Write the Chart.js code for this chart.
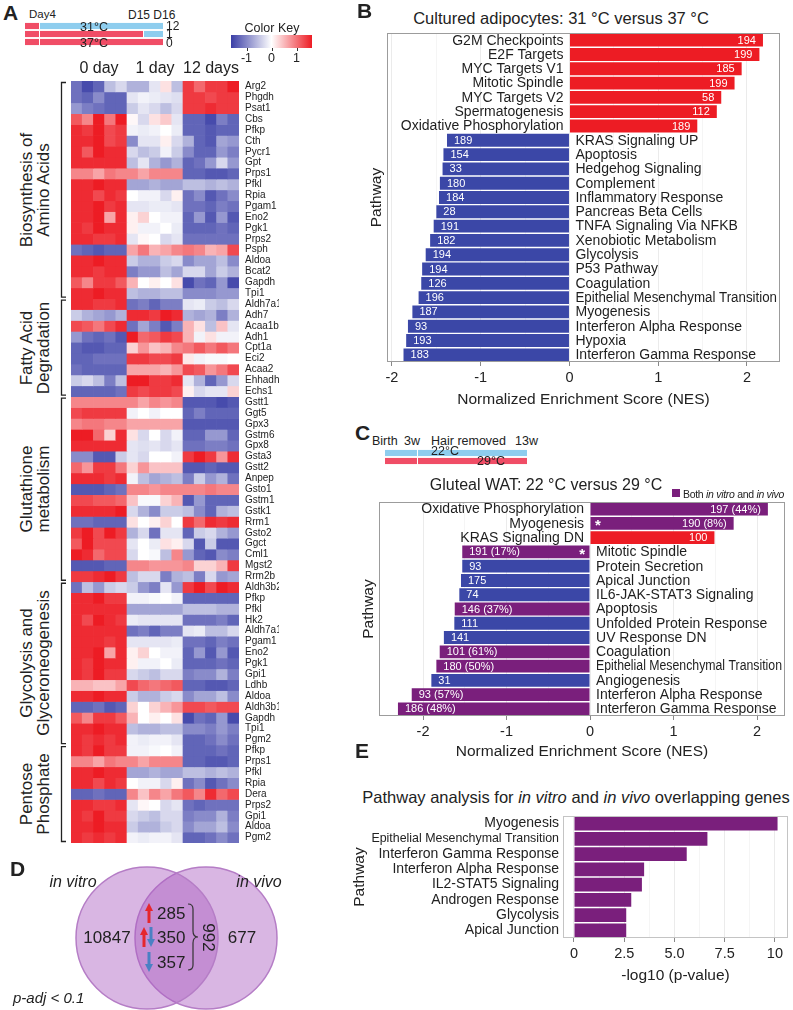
<!DOCTYPE html>
<html><head><meta charset="utf-8">
<script src="https://cdn.jsdelivr.net/npm/chart.js@4.4.1/dist/chart.umd.min.js"></script>
<style>
html,body{margin:0;padding:0;background:#fff;}
body{width:793px;height:1010px;position:relative;overflow:hidden;font-family:'Liberation Sans',Arial,sans-serif;color:#222;}
.t{position:absolute;white-space:nowrap;line-height:1;}
canvas{position:absolute;display:block;}
</style></head><body>
<script>
// ---------------- DATA ----------------
// Panel A: heatmap (z-scores), 15 samples: 5 x 0 day, 5 x 1 day, 5 x 12 days
const dayGroups = ['0 day', '1 day', '12 days'];
const sampleColumns = ['d0_1','d0_2','d0_3','d0_4','d0_5','d1_1','d1_2','d1_3','d1_4','d1_5','d12_1','d12_2','d12_3','d12_4','d12_5'];

const aminoAcidGenes = ['Arg2','Phgdh','Psat1','Cbs','Pfkp','Cth','Pycr1','Gpt','Prps1','Pfkl','Rpia','Pgam1','Eno2','Pgk1','Prps2','Psph','Aldoa','Bcat2','Gapdh','Tpi1'];
const aminoAcidRows = [
 [-1.1,-1.4,-1.2,-0.5,-0.3, -0.6,-0.6,-0.2,0.2,-0.5, 1.3,1.0,1.3,1.3,1.5],
 [-1.1,-1.2,-0.9,-1.2,-1.2, -0.2,-0.1,-0.15,-0.2,-0.25, 1.3,1.3,1.2,1.3,1.3],
 [-0.8,-1.0,-1.1,-1.2,-1.2, -0.4,-0.2,-0.3,-0.5,-0.3, 1.3,1.3,1.4,1.3,1.3],
 [1.1,0.8,1.5,0.9,1.5, 0.05,-0.3,0.2,0.35,-0.2, -1.2,-1.2,-1.4,-1.0,-1.2],
 [1.4,1.3,1.5,1.2,1.3, -0.1,-0.15,-0.1,0,-0.15, -1.2,-1.2,-1.3,-1.2,-1.2],
 [1.4,1.4,1.5,1.2,1.3, -0.9,-0.2,-0.2,0.1,-0.3, -0.6,-1.2,-1.3,-0.7,-0.8],
 [1.4,1.1,1.5,1.4,1.4, -0.3,-0.5,-0.4,-0.1,-0.4, -0.9,-1.2,-1.2,-0.8,-1.0],
 [1.4,1.4,1.4,1.4,1.4, -0.5,-0.2,-0.6,-0.8,-0.6, -1.2,-1.1,-0.8,-0.3,-0.8],
 [0.8,0.8,0.6,0.9,0.8, 0.8,0.6,0.8,0.8,0.8, -1.2,-1.2,-1.3,-1.3,-1.2],
 [1.4,1.4,1.5,1.4,1.4, -0.7,-0.7,-0.6,-0.7,-0.7, -0.5,-0.5,-0.6,-0.5,-0.6],
 [1.4,1.4,1.2,1.4,1.3, 0,-0.1,-0.1,-0.3,0.1, -1.1,-0.9,-1.3,-1.1,-0.9],
 [1.4,1.4,1.5,1.3,1.4, -0.2,-0.2,-0.15,-0.15,-0.2, -1.1,-1.1,-1.2,-1.0,-1.1],
 [1.4,1.4,1.5,0.6,1.4, 0.1,0.3,0,-0.1,-0.1, -1.2,-0.8,-1.3,-0.8,-1.3],
 [1.4,1.3,1.5,1.4,1.4, 0.1,-0.1,-0.1,0,-0.15, -1.2,-1.2,-1.2,-1.1,-1.2],
 [1.4,1.4,1.3,1.3,1.4, -0.2,0.05,0,-0.3,-0.2, -1.1,-1.1,-1.1,-1.1,-1.1],
 [-1.1,-1.2,-1.3,-1.2,-1.2, 0.6,0.9,0.5,0.6,0.8, 0.9,0.8,0.5,0.6,1.2],
 [1.4,1.4,1.5,1.4,1.4, -0.4,-0.6,-0.6,-0.4,-0.3, -0.9,-0.7,-0.7,-0.5,-0.9],
 [1.4,1.4,1.3,1.4,1.4, -1.0,-0.8,-0.8,-0.5,-0.7, -0.3,-0.3,-0.7,-0.4,-0.6],
 [1.1,0.8,1.3,1.3,1.1, 0.5,0,0.1,0,0.2, -1.4,-1.1,-1.2,-0.8,-1.4],
 [1.4,1.4,1.5,1.4,1.4, -0.5,-0.6,-0.6,-0.5,-0.5, -0.9,-0.9,-0.9,-0.8,-0.8]
];
const fattyAcidGenes = ['Aldh7a1','Adh7','Acaa1b','Adh1','Cpt1a','Eci2','Acaa2','Ehhadh','Echs1'];
const fattyAcidRows = [
 [1.4,1.4,1.3,1.3,1.4, -1.1,-1.0,-1.2,-1.0,-1.0, -0.2,-0.15,-0.4,-0.5,-0.3],
 [-0.4,-0.6,-0.7,-0.8,-0.6, 1.4,1.4,1.3,1.5,1.4, -0.6,-0.7,-0.6,-1.0,-0.6],
 [1.2,1.1,0.9,1.2,1.4, -1.1,-0.7,-1.0,-1.3,-1.0, 0.5,0.2,-0.5,0.4,-0.2],
 [-0.8,-1.1,-1.2,-1.1,-1.3, 1.5,1.0,1.1,1.3,1.2, 0.5,-0.1,0.2,-0.1,-0.1],
 [-1.2,-1.3,-1.3,-1.2,-1.2, 0.3,0.7,0.4,0.5,0.8, 0.9,1.1,0.9,1.1,0.9],
 [-1.2,-1.2,-1.1,-1.1,-1.1, 1.3,1.3,1.2,1.2,1.3, 0.15,-0.1,-0.05,-0.05,0],
 [-1.1,-1.2,-1.2,-1.2,-1.2, 0.6,0.6,0.6,0.5,0.7, 1.2,1.1,0.7,0.9,1.2],
 [-0.4,-0.3,-0.5,-1.0,-0.5, 1.5,1.5,1.3,1.3,1.4, -0.2,-0.6,-1.2,-0.8,-0.3],
 [-1.2,-1.2,-1.2,-1.2,-1.1, 1.3,1.2,1.3,1.3,1.2, 0.1,-0.3,-0.2,-0.2,0.3]
];
const glutathioneGenes = ['Gstt1','Ggt5','Gpx3','Gstm6','Gpx8','Gsta3','Gstt2','Anpep','Gsto1','Gstm1','Gstk1','Rrm1','Gsto2','Ggct','Cml1','Mgst2','Rrm2b'];
const glutathioneRows = [
 [0.8,0.8,0.8,0.8,0.8, 0.8,0.6,0.8,0.7,0.8, -1.3,-1.3,-1.3,-1.4,-1.3],
 [1.2,1.3,1.3,1.3,1.3, -0.1,0,-0.1,0,0, -1.2,-1.0,-1.2,-1.2,-1.2],
 [0.8,0.9,0.9,0.8,0.8, 0.6,0.6,0.6,0.6,0.6, -1.3,-1.3,-1.3,-1.3,-1.3],
 [1.5,1.5,1.0,0.3,1.4, 0.2,-0.3,0,-0.3,-0.1, -1.2,-1.2,-0.8,-0.8,-1.2],
 [1.4,1.4,1.4,1.4,1.4, -0.2,-0.25,-0.2,-0.3,-0.2, -1.1,-1.1,-1.0,-1.0,-1.1],
 [-0.9,-0.9,-1.3,-1.3,-0.4, -0.2,-0.3,0,0,-0.1, 1.3,1.5,1.3,0.7,1.4],
 [1.0,0.7,1.3,1.3,0.9, 0.3,0.7,0.4,0.4,0.4, -1.3,-1.3,-1.2,-1.3,-1.3],
 [1.4,1.4,1.4,1.3,1.4, -0.1,-0.5,-0.7,-0.6,-0.5, -1.0,-0.4,-0.8,-0.6,-1.1],
 [-1.3,-1.3,-1.3,-1.2,-1.1, 0.8,0.8,0.7,0.8,0.8, 0.8,0.8,0.9,0.8,0.8],
 [1.2,1.2,1.1,1.1,1.0, 0.4,-0.05,-0.05,0.3,0.5, -1.3,-0.8,-1.2,-1.2,-1.2],
 [1.4,1.4,1.4,1.4,1.5, -0.3,-0.6,-0.9,-0.4,-0.4, -0.5,-0.9,-1.2,-0.6,-0.5],
 [-1.1,-1.1,-1.2,-1.2,-1.2, 0.2,0,0.1,0.3,0, 1.3,1.0,1.4,1.3,1.4],
 [1.3,1.5,1.2,1.5,1.3, -0.6,-0.3,-1.1,-0.2,-0.2, -1.2,-0.4,-0.3,-0.6,-0.8],
 [1.1,1.5,1.2,1.2,1.2, -0.2,0,-0.15,0.2,0.1, -0.3,-1.3,-0.4,-1.3,-1.3],
 [1.5,1.4,1.0,1.2,1.2, -0.3,0,-0.05,-0.5,0.8, -0.8,-1.2,-1.3,-0.9,-1.0],
 [-1.3,-1.3,-1.3,-1.2,-1.2, 0.8,0.8,0.7,0.7,0.7, 0.8,0.3,0.3,0.5,1.3],
 [1.3,1.3,1.4,1.5,1.3, -0.5,-0.3,-0.3,-1.0,-0.6, -0.5,-1.0,-0.3,-0.8,-0.7]
];
const glycolysisGenes = ['Aldh3b2','Pfkp','Pfkl','Hk2','Aldh7a1','Pgam1','Eno2','Pgk1','Gpi1','Ldhb','Aldoa','Aldh3b1','Gapdh','Tpi1','Pgm2'];
const glycolysisRows = [
 [-1.1,-0.5,-0.8,-0.4,-0.3, -0.4,-0.8,-1.0,-0.2,-0.8, 1.3,1.5,1.2,1.5,1.4],
 [1.4,1.4,1.5,1.3,1.3, -0.1,-0.1,-0.05,0,-0.1, -1.2,-1.2,-1.2,-1.2,-1.2],
 [1.4,1.4,1.4,1.4,1.4, -0.7,-0.7,-0.7,-0.7,-0.7, -0.5,-0.5,-0.5,-0.6,-0.6],
 [1.4,1.2,1.5,1.4,1.3, -0.15,-0.2,-0.2,-0.2,-0.2, -1.1,-1.1,-1.1,-1.0,-1.2],
 [1.4,1.4,1.4,1.4,1.4, -1.1,-1.0,-1.2,-1.0,-1.0, -0.2,-0.15,-0.5,-0.5,-0.3],
 [1.4,1.4,1.4,1.3,1.4, -0.2,-0.2,-0.2,-0.2,-0.15, -1.1,-1.1,-1.2,-1.0,-1.1],
 [1.4,1.4,1.5,0.6,1.4, 0.1,0.3,0,-0.1,-0.1, -1.2,-0.8,-1.3,-0.8,-1.3],
 [1.4,1.3,1.5,1.4,1.4, 0.1,-0.1,-0.1,0,-0.15, -1.2,-1.2,-1.2,-1.1,-1.2],
 [1.4,1.3,1.5,1.3,1.3, -0.3,-0.4,-0.5,-0.3,-0.3, -1.0,-0.9,-0.9,-0.6,-1.0],
 [0.5,0.5,0.4,0.4,0.6, 1.2,1.0,0.9,1.0,1.1, -1.2,-1.2,-1.3,-1.3,-1.2],
 [1.4,1.4,1.5,1.4,1.4, -0.4,-0.6,-0.6,-0.4,-0.3, -0.9,-0.7,-0.7,-0.5,-0.9],
 [-1.2,-1.2,-1.1,-1.3,-1.2, 0.3,0,0.3,0.5,0.7, 1.2,1.2,1.1,1.2,1.2],
 [1.1,0.8,1.3,1.3,1.1, 0.5,0,0.1,0,0.2, -1.4,-1.1,-1.2,-0.8,-1.4],
 [1.4,1.4,1.5,1.4,1.4, -0.5,-0.6,-0.6,-0.5,-0.5, -0.9,-0.9,-1.0,-0.8,-1.0],
 [1.4,1.3,1.4,1.3,1.4, -0.1,-0.15,-0.1,-0.1,-0.2, -1.2,-1.2,-1.1,-0.9,-1.1]
];
const pentoseGenes = ['Pfkp','Prps1','Pfkl','Rpia','Dera','Prps2','Gpi1','Aldoa','Pgm2'];
const pentoseRows = [
 [1.4,1.3,1.5,1.3,1.3, -0.1,-0.1,-0.05,0,-0.1, -1.2,-1.2,-1.2,-1.1,-1.2],
 [0.8,0.8,0.6,0.9,0.8, 0.8,0.6,0.8,0.8,0.8, -1.2,-1.2,-1.3,-1.3,-1.2],
 [1.4,1.4,1.5,1.4,1.4, -0.7,-0.7,-0.6,-0.7,-0.7, -0.5,-0.5,-0.6,-0.5,-0.6],
 [1.4,1.4,1.2,1.4,1.3, 0,-0.1,-0.1,-0.3,0.1, -1.1,-0.9,-1.3,-1.1,-0.9],
 [-1.2,-1.2,-1.1,-1.2,-1.2, 0.8,0.4,0.8,0.6,0.9, 1.1,0.8,1.4,1.0,1.2],
 [1.4,1.4,1.3,1.3,1.4, -0.2,0.05,0,-0.3,-0.2, -1.1,-1.2,-1.1,-1.1,-1.1],
 [1.4,1.3,1.5,1.3,1.3, -0.3,-0.4,-0.5,-0.3,-0.3, -1.0,-0.9,-0.9,-0.6,-1.0],
 [1.4,1.4,1.5,1.4,1.4, -0.4,-0.6,-0.6,-0.4,-0.3, -0.9,-0.7,-0.7,-0.5,-0.9],
 [1.4,1.3,1.4,1.3,1.4, -0.1,-0.15,-0.1,-0.1,-0.2, -1.2,-1.2,-1.1,-0.9,-1.1]
];
const pathwayGroups = [
 ['Biosynthesis of','Amino Acids'], ['Fatty Acid','Degradation'], ['Glutathione','metabolism'],
 ['Glycolysis and','Glyceroneogenesis'], ['Pentose','Phosphate']
];
const colorKeyTicks = [-1, 0, 1];

// Panel A schematic (timeline positions: start, Day4, D15, D16)
const aRowLabels = ['12', '1', '0'];
const aSeg1 = [[0, 1.5], [0, 1.5], [0, 1.5]];
const aSeg2 = [[1.5, 13.9], [1.5, 11.9], [1.5, 13.9]];
const aSeg3 = [null, [11.9, 13.9], null];
const aSeg2Temp = ['31', '37', '37'];

// Panel B
const bPathways = ['G2M Checkpoints','E2F Targets','MYC Targets V1','Mitotic Spindle','MYC Targets V2','Spermatogenesis','Oxidative Phosphorylation','KRAS Signaling UP','Apoptosis','Hedgehog Signaling','Complement','Inflammatory Response','Pancreas Beta Cells','TNFA Signaling Via NFKB','Xenobiotic Metabolism','Glycolysis','P53 Pathway','Coagulation','Epithelial Mesenchymal Transition','Myogenesis','Interferon Alpha Response','Hypoxia','Interferon Gamma Response'];
const bNES = [2.18,2.14,1.94,1.86,1.71,1.66,1.44,-1.38,-1.42,-1.43,-1.46,-1.47,-1.50,-1.53,-1.57,-1.62,-1.66,-1.67,-1.70,-1.77,-1.82,-1.84,-1.87];
const bCounts = ['194','199','185','199','58','112','189','189','154','33','180','184','28','191','182','194','194','126','196','187','93','193','183'];

// Panel C schematic (weeks)
const cRowLabels = ['22°C', '29°C'];
const cSeg1 = [[0, 3], [0, 3]];
const cSeg2 = [[3, 13], [3, 13]];

// Panel C
const cPathways = ['Oxidative Phosphorylation','Myogenesis','KRAS Signaling DN','Mitotic Spindle','Protein Secretion','Apical Junction','IL6-JAK-STAT3 Signaling','Apoptosis','Unfolded Protein Response','UV Response DN','Coagulation','Epithelial Mesenchymal Transition','Angiogenesis','Interferon Alpha Response','Interferon Gamma Response'];
const cNES = [2.13,1.72,1.49,-1.53,-1.53,-1.545,-1.565,-1.62,-1.625,-1.75,-1.80,-1.84,-1.90,-2.135,-2.30];
const cCounts = ['197 (44%)','190 (8%)','100','191 (17%)','93','175','74','146 (37%)','111','141','101 (61%)','180 (50%)','31','93 (57%)','186 (48%)'];
const cClass = ['both','both','up','both','down','down','down','both','down','down','both','both','down','both','both'];
const cStar = [false,true,false,true,false,false,false,false,false,false,false,false,false,false,false];

// Panel D
const vennSets = ['in vitro', 'in vivo'];
const vennX = [-1, 1];
const vennOnly = ['10847', '677'];
const vennOverlap = ['285', '350', '357'];
const vennOverlapTotal = '992';

// Panel E
const ePathways = ['Myogenesis','Epithelial Mesenchymal Transition','Interferon Gamma Response','Interferon Alpha Response','IL2-STAT5 Signaling','Androgen Response','Glycolysis','Apical Junction'];
const eLogP = [10.13,6.64,5.61,3.49,3.38,2.85,2.60,2.60];

// ---------------- HELPERS ----------------
const FONT = "'Liberation Sans', Arial, sans-serif";
Chart.defaults.font.family = FONT;
Chart.defaults.color = '#222';
const RED = '#ed1c24', BLUE = '#3b47a7', PURPLE = '#7a1f7c';
const SKY = '#8ecdee', PINK = '#f04d66';

function T(html, x, y, size, align, extra) {
  const d = document.createElement('div');
  d.className = 't';
  d.innerHTML = html;
  let tx = align === 'center' ? '-50%' : align === 'right' ? '-100%' : '0';
  d.style.cssText += `left:${x}px;top:${y - size * 0.5}px;font-size:${size}px;transform:translateX(${tx});` + (extra || '');
  document.body.appendChild(d);
  return d;
}
function mk(left, top, w, h) {
  const c = document.createElement('canvas');
  c.width = w; c.height = h;
  c.style.cssText = `left:${left}px;top:${top}px;width:${w}px;height:${h}px;`;
  document.body.appendChild(c);
  return c;
}
const baseOpts = () => ({
  responsive: false, animation: false, events: [], devicePixelRatio: 1,
  layout: { autoPadding: false, padding: 0 },
  plugins: { legend: { display: false }, tooltip: { enabled: false } }
});
const noPad = s => { s.paddingTop = 0; s.paddingBottom = 0; s.paddingLeft = 0; s.paddingRight = 0; };
function heatColor(v) {
  const t = Math.max(-1, Math.min(1, v / 1.5));
  const hi = t >= 0 ? [237, 28, 36] : [58, 62, 166];
  const a = Math.abs(t);
  const c = hi.map(h => Math.round(255 + (h - 255) * a));
  return `rgb(${c[0]},${c[1]},${c[2]})`;
}

// ---------------- PANEL A ----------------
T('<b>A</b>', 3, 12, 21);
const aColors2 = aSeg2Temp.map(t => t === '31' ? SKY : PINK);
new Chart(mk(24, 22, 139, 24), {
  type: 'bar',
  data: { labels: aRowLabels, datasets: [
    { data: aSeg1, backgroundColor: PINK },
    { data: aSeg2, backgroundColor: aColors2 },
    { data: aSeg3, backgroundColor: SKY }
  ].map(d => Object.assign(d, { barPercentage: 0.8, categoryPercentage: 1, borderColor: '#fff', borderWidth: { left: 1, right: 0, top: 0, bottom: 0 }, borderSkipped: false })) },
  options: Object.assign(baseOpts(), { indexAxis: 'y', scales: {
    x: { display: false, min: 0, max: 13.9 }, y: { display: false, stacked: true } } })
});
T('Day4', 29, 15, 11.5);
T('D15 D16', 128, 15, 12);
T('31°C', 80, 27, 12.5);
T('37°C', 80, 43, 12.5);
aRowLabels.forEach((l, i) => T(l, 166, 26 + i * 8.3, 12));

const ck = document.createElement('div');
ck.style.cssText = 'position:absolute;left:231px;top:35px;width:81px;height:13px;background:linear-gradient(to right,rgb(58,62,166),#fff 50%,rgb(237,28,36));';
document.body.appendChild(ck);
T('Color Key', 272, 28, 12.5, 'center');
colorKeyTicks.forEach(v => {
  const x = 271.5 + v * 25;
  const tk = document.createElement('div');
  tk.style.cssText = `position:absolute;left:${x}px;top:48px;width:1px;height:3px;background:#333;`;
  document.body.appendChild(tk);
  T(String(v), x, 58, 12.5, 'center');
});

const heatRows = [].concat(aminoAcidRows, fattyAcidRows, glutathioneRows, glycolysisRows, pentoseRows);
const geneNames = [].concat(aminoAcidGenes, fattyAcidGenes, glutathioneGenes, glycolysisGenes, pentoseGenes);
const HM_TOP = 81, HM_H = 762, HM_ROWS = heatRows.length;
new Chart(mk(71, HM_TOP - 26, 168 + 40, HM_H + 26), {
  type: 'bar',
  data: { labels: sampleColumns, datasets: heatRows.map((row, i) => ({
    label: geneNames[i], data: row.map(() => 1), backgroundColor: row.map(heatColor),
    borderWidth: 0, barPercentage: 1, categoryPercentage: 1, xAxisID: 'x', yAxisID: 'y' })) },
  options: Object.assign(baseOpts(), { scales: {
    x: { stacked: true, display: false },
    y: { stacked: true, reverse: true, min: 0, max: HM_ROWS, display: false },
    xTop: { type: 'category', labels: dayGroups, position: 'top', offset: true,
      grid: { display: false, drawTicks: false }, border: { display: false },
      ticks: { autoSkip: false, font: { size: 16 }, color: '#222', padding: 3, maxRotation: 0 },
      afterFit: s => { s.height = 26; noPad(s); } },
    yGenes: { type: 'category', labels: geneNames, position: 'right', offset: true,
      grid: { display: false, drawTicks: false }, border: { display: false },
      ticks: { autoSkip: false, font: { size: 10 }, color: '#222', padding: 6 },
      afterFit: s => { s.width = 40; noPad(s); } }
  } })
});
(function () {
  const sizes = [aminoAcidRows.length, fattyAcidRows.length, glutathioneRows.length, glycolysisRows.length, pentoseRows.length];
  const rh = HM_H / HM_ROWS;
  let start = 0, svg = '<svg style="position:absolute;left:0;top:0" width="80" height="860">';
  sizes.forEach((n, g) => {
    const y0 = HM_TOP + start * rh + 1.5, y1 = HM_TOP + (start + n) * rh - 1.5;
    svg += `<path d="M66,${y0} H61.5 V${y1} H66" fill="none" stroke="#222" stroke-width="1.3"/>`;
    const cy = (y0 + y1) / 2, L = 220;
    const d = document.createElement('div');
    d.className = 't';
    d.style.cssText = `left:${35 - L / 2}px;top:${cy - 17}px;width:${L}px;height:34px;font-size:17px;line-height:17px;text-align:center;transform:rotate(-90deg);`;
    d.innerHTML = pathwayGroups[g].join('<br>');
    document.body.appendChild(d);
    start += n;
  });
  svg += '</svg>';
  document.body.insertAdjacentHTML('beforeend', svg);
})();

// ---------------- NES CHARTS (B, C) ----------------
const boxPlugin = { id: 'box', afterDraw(chart, args, o) {
  const a = chart.chartArea, ctx = chart.ctx;
  ctx.save(); ctx.strokeStyle = o.color || '#999'; ctx.lineWidth = 1;
  ctx.strokeRect(Math.round(a.left) + 0.5, Math.round(a.top) + 0.5, Math.round(a.width) - 1, Math.round(a.height) - 1);
  ctx.restore();
} };
const nesTextPlugin = { id: 'nesText', afterDatasetsDraw(chart, args, o) {
  const ctx = chart.ctx, meta = chart.getDatasetMeta(0), a = chart.chartArea;
  const x0 = chart.scales.x.getPixelForValue(0);
  const vals = chart.data.datasets[0].data, names = chart.data.labels;
  ctx.save(); ctx.textBaseline = 'middle';
  meta.data.forEach((el, i) => {
    const v = vals[i], y = el.y + 0.5;
    ctx.fillStyle = '#1e1e1e'; ctx.font = `${o.nameSize}px ${FONT}`;
    if (v > 0) { ctx.textAlign = 'right'; ctx.fillText(names[i], x0 - 6, y, x0 - 6 - a.left - 3); }
    else { ctx.textAlign = 'left'; ctx.fillText(names[i], x0 + 6, y, a.right - x0 - 9); }
    ctx.fillStyle = '#fff'; ctx.font = `${o.countSize}px ${FONT}`;
    if (v > 0) { ctx.textAlign = 'right'; ctx.fillText(o.counts[i], el.x - 7, y); }
    else { ctx.textAlign = 'left'; ctx.fillText(o.counts[i], el.x + 7, y); }
    if (o.stars && o.stars[i]) {
      ctx.font = `bold 15px ${FONT}`;
      if (v > 0) { ctx.textAlign = 'left'; ctx.fillText('*', x0 + 5, y + 2); }
      else { ctx.textAlign = 'right'; ctx.fillText('*', x0 - 5, y + 2); }
    }
  });
  ctx.restore();
} };
function nesChart(c, cfg) {
  return new Chart(c, {
    type: 'bar',
    data: { labels: cfg.names, datasets: [{ data: cfg.values, backgroundColor: cfg.colors, borderWidth: 0, barPercentage: 0.9, categoryPercentage: 1 }] },
    options: Object.assign(baseOpts(), {
      indexAxis: 'y',
      layout: { autoPadding: false, padding: { left: 0, right: cfg.padR, top: 0, bottom: 0 } },
      plugins: { legend: { display: false }, tooltip: { enabled: false },
        box: { color: '#9c9c9c' }, nesText: { counts: cfg.counts, stars: cfg.stars, nameSize: 14, countSize: 11 } },
      scales: {
        x: { type: 'linear', min: cfg.min, max: cfg.max,
          afterBuildTicks: s => { s.ticks = [-2, -1.5, -1, -0.5, 0, 0.5, 1, 1.5, 2].map(v => ({ value: v })); },
          ticks: { autoSkip: false, maxRotation: 0, padding: 3, font: { size: 14.5 }, color: '#222',
            callback: v => Number.isInteger(v) ? String(v) : '' },
          grid: { color: c => (c.tick && Number.isInteger(c.tick.value)) ? '#ebebeb' : '#f5f5f5', tickLength: 4,
            tickColor: c => (c.tick && Number.isInteger(c.tick.value)) ? '#888' : 'rgba(0,0,0,0)' },
          border: { display: false },
          title: { display: true, text: 'Normalized Enrichment Score (NES)', font: { size: 15.5 }, color: '#222', padding: { top: 2, bottom: 3 } },
          afterFit: s => { s.height = cfg.hx; noPad(s); } },
        y: { ticks: { display: false }, grid: { display: false, drawTicks: false }, border: { display: false },
          title: { display: true, text: 'Pathway', font: { size: 15.5 }, color: '#222', padding: { top: 2, bottom: 0 } },
          afterFit: s => { s.width = cfg.wy; noPad(s); } }
      }
    }),
    plugins: [boxPlugin, nesTextPlugin]
  });
}

// ---------------- PANEL B ----------------
T('<b>B</b>', 357, 10, 21);
T('Cultured adipocytes: 31 °C versus 37 °C', 561, 18, 16.5, 'center');
nesChart(mk(365, 33, 425, 379), { names: bPathways, values: bNES, counts: bCounts,
  colors: bNES.map(v => v > 0 ? RED : BLUE), min: -2.056, max: 2.372, padR: 10, wy: 22, hx: 50 });

// ---------------- PANEL C ----------------
T('<b>C</b>', 355, 432, 21);
['Birth', '3w', 'Hair removed', '13w'].forEach((s, i) => T(s, [372, 404, 431, 515][i], 441, 12.5));
new Chart(mk(384, 449, 143, 16), {
  type: 'bar',
  data: { labels: cRowLabels, datasets: [
    { data: cSeg1, backgroundColor: [SKY, PINK] },
    { data: cSeg2, backgroundColor: [SKY, PINK] }
  ].map(d => Object.assign(d, { barPercentage: 0.82, categoryPercentage: 1, borderColor: '#fff', borderWidth: { left: 1, right: 0, top: 0, bottom: 0 }, borderSkipped: false })) },
  options: Object.assign(baseOpts(), { indexAxis: 'y', scales: {
    x: { display: false, min: 0, max: 13 }, y: { display: false, stacked: true } } })
});
T(cRowLabels[0], 431, 451, 12.5);
T(cRowLabels[1], 477, 461, 12.5);
T('Gluteal WAT: 22 °C versus 29 °C', 546, 485, 16, 'center');
const lg = document.createElement('div');
lg.style.cssText = `position:absolute;left:672px;top:489px;width:8px;height:8px;background:${PURPLE};`;
document.body.appendChild(lg);
T('Both <i>in vitro</i> and <i>in vivo</i>', 683, 494, 10.5, 'left', 'letter-spacing:-0.3px;');
const cColorMap = { both: PURPLE, up: RED, down: BLUE };
nesChart(mk(357, 502, 436, 262), { names: cPathways, values: cNES, counts: cCounts, stars: cStar,
  colors: cClass.map(k => cColorMap[k]), min: -2.527, max: 2.335, padR: 8, wy: 22, hx: 48 });

// ---------------- PANEL D ----------------
T('<b>D</b>', 10, 868, 21);
new Chart(mk(0, 850, 360, 176), {
  type: 'bubble',
  data: { datasets: vennSets.map((s, i) => ({ label: s, data: [{ x: vennX[i], y: 0, r: 71 }],
    backgroundColor: 'rgba(171,93,193,0.45)', borderColor: '#b57dc6', borderWidth: 1.5, clip: false })) },
  options: Object.assign(baseOpts(), { scales: {
    x: { display: false, min: -5.983, max: 6.220 }, y: { display: false, min: -1, max: 1 } } })
});
T('<i>' + vennSets[0] + '</i>', 73, 882, 16, 'center');
T('<i>' + vennSets[1] + '</i>', 259, 882, 16, 'center');
T(vennOnly[0], 107, 937, 17, 'center');
T(vennOnly[1], 242, 937, 17, 'center');
[913, 937, 962].forEach((y, i) => T(vennOverlap[i], 157, y, 17));
T(vennOverlapTotal, 208, 937, 17, 'center', 'transform:translateX(-50%) rotate(90deg);');
T('<i>p-adj &lt; 0.1</i>', 13, 997, 15);
function arrow(x, yc, up, color) {
  const h = 20, s = up ? 1 : -1, yt = yc - s * h / 2, yb = yc + s * h / 2;
  return `<path d="M${x},${yt} L${x - 4},${yt + s * 8} L${x - 1.5},${yt + s * 8} L${x - 1.5},${yb} L${x + 1.5},${yb} L${x + 1.5},${yt + s * 8} L${x + 4},${yt + s * 8} Z" fill="${color}"/>`;
}
document.body.insertAdjacentHTML('beforeend',
  `<svg style="position:absolute;left:0;top:880px" width="260" height="110" viewBox="0 880 260 110">` +
  arrow(149, 913, true, '#e5262d') + arrow(144, 937, true, '#e5262d') + arrow(151, 937, false, '#4a80c4') + arrow(149, 962, false, '#4a80c4') +
  `<path d="M188,904 q5,0 5,5 v22 q0,6 5,6 q-5,0 -5,6 v22 q0,5 -5,5" fill="none" stroke="#333" stroke-width="1.2"/></svg>`);

// ---------------- PANEL E ----------------
T('<b>E</b>', 355, 750, 21);
T('Pathway analysis for <i>in vitro</i> and <i>in vivo</i> overlapping genes', 576, 797, 16.5, 'center');
const eLabelVals = { 0: '0', 2.5: '2.5', 5: '5.0', 7.5: '7.5', 10: '10' };
new Chart(mk(350, 816, 442, 172), {
  type: 'bar',
  data: { labels: ePathways, datasets: [{ data: eLogP, backgroundColor: PURPLE, borderWidth: 0, barPercentage: 0.9, categoryPercentage: 1 }] },
  options: Object.assign(baseOpts(), {
    indexAxis: 'y',
    layout: { autoPadding: false, padding: { left: 0, right: 4, top: 0, bottom: 0 } },
    plugins: { legend: { display: false }, tooltip: { enabled: false }, box: { color: '#c4c4c4' } },
    scales: {
      x: { type: 'linear', min: -0.547, max: 10.65,
        afterBuildTicks: s => { s.ticks = [0, 1.25, 2.5, 3.75, 5, 6.25, 7.5, 8.75, 10].map(v => ({ value: v })); },
        ticks: { autoSkip: false, maxRotation: 0, padding: 3, font: { size: 14.5 }, color: '#222', callback: v => eLabelVals[v] ?? '' },
        grid: { color: c => (c.tick && eLabelVals[c.tick.value] !== undefined) ? '#ebebeb' : '#f5f5f5', tickLength: 4,
          tickColor: c => (c.tick && eLabelVals[c.tick.value] !== undefined) ? '#888' : 'rgba(0,0,0,0)' },
        border: { display: false },
        title: { display: true, text: '-log10 (p-value)', font: { size: 15.5 }, color: '#222', padding: { top: 2, bottom: 3 } },
        afterFit: s => { s.height = 50; noPad(s); } },
      y: { grid: { display: false, drawTicks: false }, border: { display: false },
        ticks: { autoSkip: false, padding: 4, color: '#222',
          font: c => ({ size: (c.tick && String(c.tick.label).length > 28) ? 12.4 : 14 }) },
        title: { display: true, text: 'Pathway', font: { size: 15.5 }, color: '#222', padding: { top: 0, bottom: 0 } },
        afterFit: s => { s.width = 213; noPad(s); } }
    }
  }),
  plugins: [boxPlugin]
});
</script>
</body></html>
